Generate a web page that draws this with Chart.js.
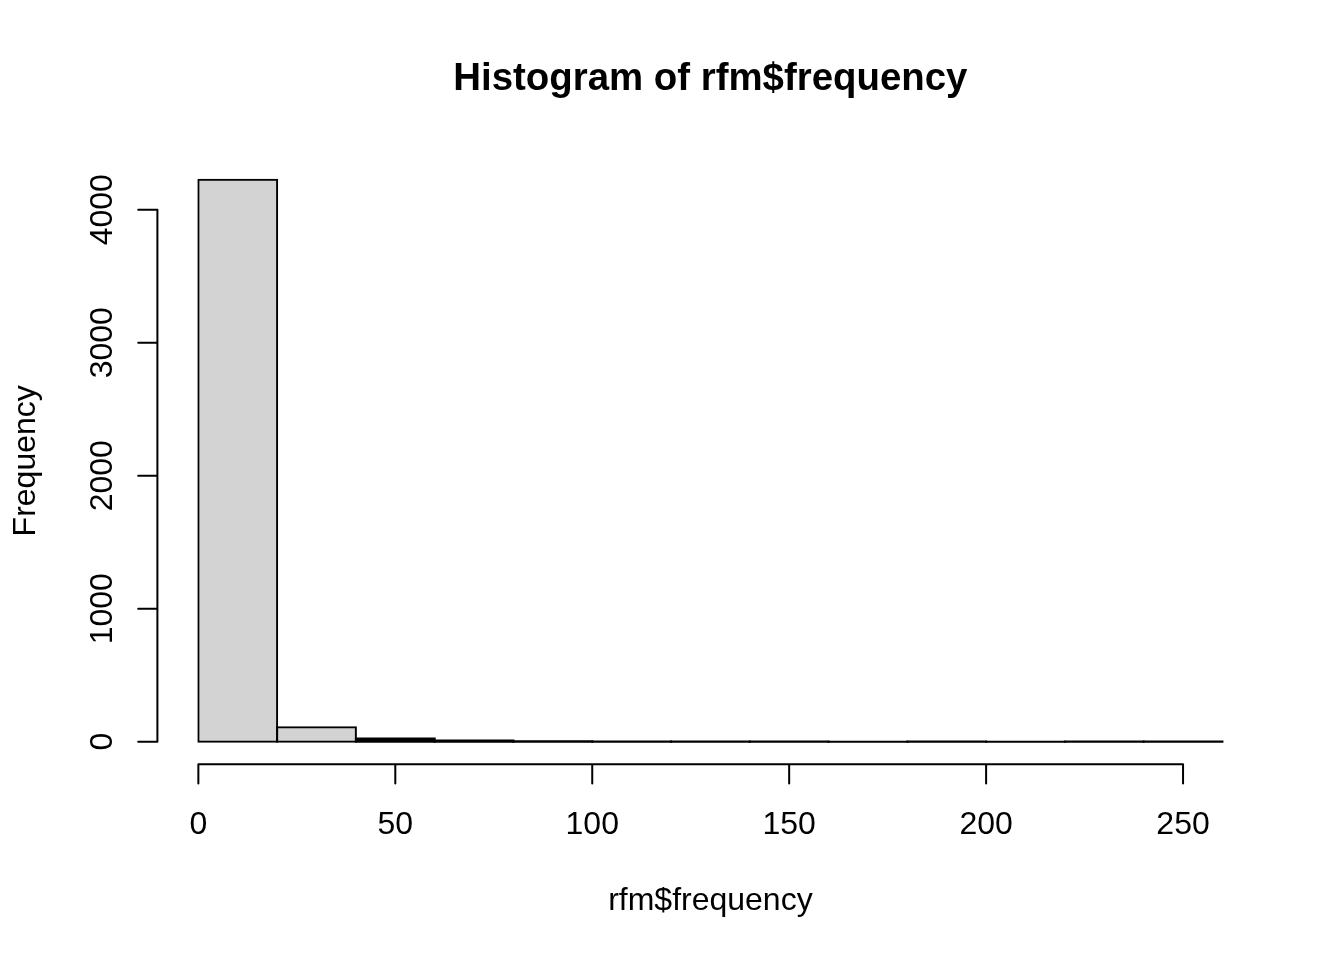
<!DOCTYPE html>
<html>
	<head>
		<meta charset="UTF-8" />
		<title>Histogram of rfm$frequency</title>
		<style type="text/css">
body { margin: 0; background: #fff; }
		</style>
	</head>
	<body>
		<script src="https://cdn.jsdelivr.net/npm/chart.js@4/dist/chart.umd.min.js"></script>
		<canvas id="myChart" width="1344" height="960"></canvas>
		<script charset="utf-8">
			// histogram bins (width 20) and counts
			const breaks = [0, 20, 40, 60, 80, 100, 120, 140, 160, 180, 200, 220, 240, 260];
			const counts = [4225, 108, 25, 10, 3, 2, 1, 1, 0, 1, 0, 1, 1];
			const xTicks = [0, 50, 100, 150, 200, 250];
			const yTicks = [0, 1000, 2000, 3000, 4000];
			const titleText = 'Histogram of rfm$frequency';
			const xTitle = 'rfm$frequency';
			const yTitle = 'Frequency';

			const FONT = '"Liberation Sans", Arial, sans-serif';
			const ymax = Math.max(...counts);
			const xspan = breaks[breaks.length - 1] - breaks[0];

			// bars only a few pixels tall are drawn as a solid outline strip
			const isTall = c => {
				const y = c.chart.scales.y;
				return c.raw && (y.getPixelForValue(0) - y.getPixelForValue(c.raw.y)) >= 4;
			};

			// R style detached axes, drawn from the chart's own scales
			const rAxes = {
				id: 'rAxes',
				afterDraw(chart) {
					const {ctx, chartArea: a, scales: {x, y}} = chart;
					const tick = 19.2;
					ctx.save();
					ctx.strokeStyle = '#000';
					ctx.fillStyle = '#000';
					ctx.lineWidth = 2;
					ctx.lineCap = 'round';

					ctx.beginPath();
					ctx.moveTo(x.getPixelForValue(xTicks[0]), a.bottom);
					ctx.lineTo(x.getPixelForValue(xTicks[xTicks.length - 1]), a.bottom);
					xTicks.forEach(v => {
						const px = x.getPixelForValue(v);
						ctx.moveTo(px, a.bottom);
						ctx.lineTo(px, a.bottom + tick);
					});
					ctx.moveTo(a.left, y.getPixelForValue(yTicks[0]));
					ctx.lineTo(a.left, y.getPixelForValue(yTicks[yTicks.length - 1]));
					yTicks.forEach(v => {
						const py = y.getPixelForValue(v);
						ctx.moveTo(a.left, py);
						ctx.lineTo(a.left - tick, py);
					});
					ctx.stroke();

					ctx.font = '32px ' + FONT;
					ctx.textAlign = 'center';
					ctx.textBaseline = 'alphabetic';
					xTicks.forEach(v => {
						ctx.fillText(String(v), x.getPixelForValue(v), a.bottom + 69.8);
					});
					ctx.fillText(xTitle, (a.left + a.right) / 2, a.bottom + 145.8);

					yTicks.forEach(v => {
						ctx.save();
						ctx.translate(a.left - 45.4, y.getPixelForValue(v));
						ctx.rotate(-Math.PI / 2);
						ctx.fillText(String(v), 0, 0);
						ctx.restore();
					});
					ctx.translate(a.left - 122.4, (a.top + a.bottom) / 2);
					ctx.rotate(-Math.PI / 2);
					ctx.fillText(yTitle, 0, 0);
					ctx.restore();
				}
			};

			const data = {
				datasets: [{
					label: yTitle,
					data: counts.map((c, i) => ({x: (breaks[i] + breaks[i + 1]) / 2, y: c})),
					backgroundColor: c => isTall(c) ? '#D3D3D3' : '#000',
					borderColor: '#000',
					borderWidth: c => isTall(c) ? 2 : 0,
					borderSkipped: false,
					// centre the 2px outline on the bar edge, as R does
					inflateAmount: 1,
					barPercentage: 1,
					categoryPercentage: 1,
					grouped: false
				}]
			};

			const config = {
				type: 'bar',
				data,
				options: {
					responsive: false,
					devicePixelRatio: 1,
					animation: false,
					layout: {
						padding: {top: 0, left: 157.4, right: 80.6, bottom: 195.8}
					},
					scales: {
						x: {
							type: 'linear',
							display: false,
							offset: false,
							min: breaks[0] - 0.04 * xspan,
							max: breaks[breaks.length - 1] + 0.04 * xspan,
							afterBuildTicks: s => { s.ticks = xTicks.map(v => ({value: v})); }
						},
						y: {
							type: 'linear',
							display: false,
							min: -0.04 * ymax,
							max: 1.04 * ymax,
							afterBuildTicks: s => { s.ticks = yTicks.map(v => ({value: v})); }
						}
					},
					plugins: {
						legend: {display: false},
						tooltip: {enabled: false},
						title: {
							display: true,
							text: titleText,
							color: '#000',
							font: {family: FONT, size: 38.4, weight: 'bold', lineHeight: 1.2},
							padding: {top: 56.5, bottom: 54.8}
						}
					}
				},
				plugins: [rAxes]
			};

			var ctx = document.getElementById('myChart').getContext('2d');
			var myChart = new Chart(ctx, config);
		</script>
	</body>
</html>
